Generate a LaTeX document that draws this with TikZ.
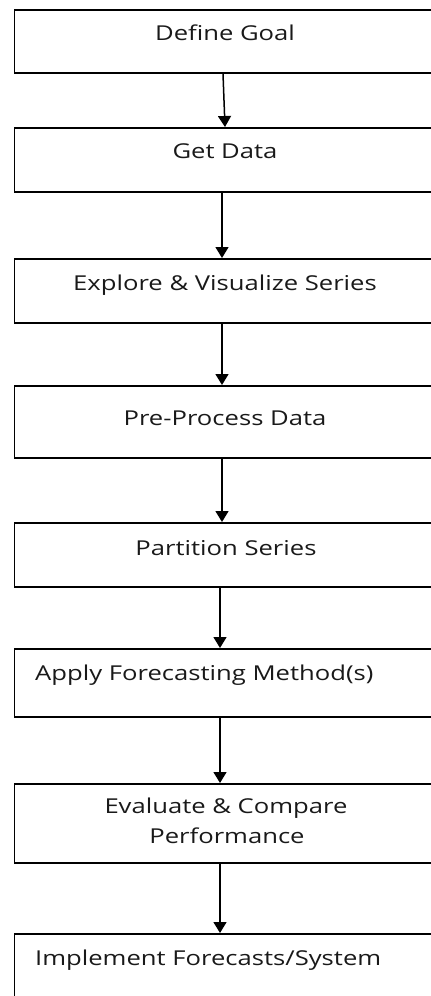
\documentclass[tikz,border=0pt]{standalone}
\usepackage{fontspec}
\setmainfont[Ligatures=NoCommon,FakeStretch=1.25]{Open Sans}
\usetikzlibrary{arrows.meta,calc}
\begin{document}
\begin{tikzpicture}[x=1pt,y=-1pt,
  box/.style={draw=black, line width=1.7pt, rectangle, inner sep=0pt, anchor=north west, minimum width=430pt},
  lbl/.style={font=\fontsize{20.5}{25}\selectfont, text=black!90, inner sep=0pt},
  conn/.style={line width=1.5pt, -{Triangle[width=13pt,length=11pt]}}]
\useasboundingbox (0,0) rectangle (431,996);
\clip (0,0) rectangle (431,996);
\node[box, minimum height=63pt] (b1) at (13.5,9) {};
\node[box, minimum height=64pt] (b2) at (13.5,127) {};
\node[box, minimum height=64pt] (b3) at (13.5,258) {};
\node[box, minimum height=72pt] (b4) at (13.5,385) {};
\node[box, minimum height=64pt] (b5) at (13.5,522) {};
\node[box, minimum height=68pt] (b6) at (13.5,648) {};
\node[box, minimum height=79pt] (b7) at (13.5,783) {};
\node[box, minimum height=90pt] (b8) at (13.5,933) {};
\node[lbl, anchor=base] (t1) at (225,40) {Define Goal};
\node[lbl, anchor=base] (t2) at (225,158) {Get Data};
\node[lbl, anchor=base] (t3) at (225,290) {Explore \& Visualize Series};
\node[lbl, anchor=base] (t4) at (225,425) {Pre-Process Data};
\node[lbl, anchor=base] (t5) at (226,555) {Partition Series};
\node[lbl, anchor=base west] (t6) at (35,680) {Apply Forecasting Method(s)};
\node[lbl, anchor=base] (t7a) at (226,813) {Evaluate \& Compare};
\node[lbl, anchor=base] (t7b) at (227,843) {Performance};
\node[lbl, anchor=base west] (t8) at (35,965) {Implement Forecasts/System};
\draw[conn] ([xshift=209.5pt]b1.south west) -- ([xshift=211.5pt]b2.north west);
\draw[conn] ([xshift=208.5pt]b2.south west) -- ([xshift=208.5pt]b3.north west);
\draw[conn] ([xshift=208.5pt]b3.south west) -- ([xshift=208.5pt]b4.north west);
\draw[conn] ([xshift=208.5pt]b4.south west) -- ([xshift=208.5pt]b5.north west);
\draw[conn] ([xshift=206.5pt]b5.south west) -- ([xshift=206.5pt]b6.north west);
\draw[conn] ([xshift=206.5pt]b6.south west) -- ([xshift=206.5pt]b7.north west);
\draw[conn] ([xshift=206.5pt]b7.south west) -- ([xshift=206.5pt]b8.north west);
\end{tikzpicture}
\end{document}
